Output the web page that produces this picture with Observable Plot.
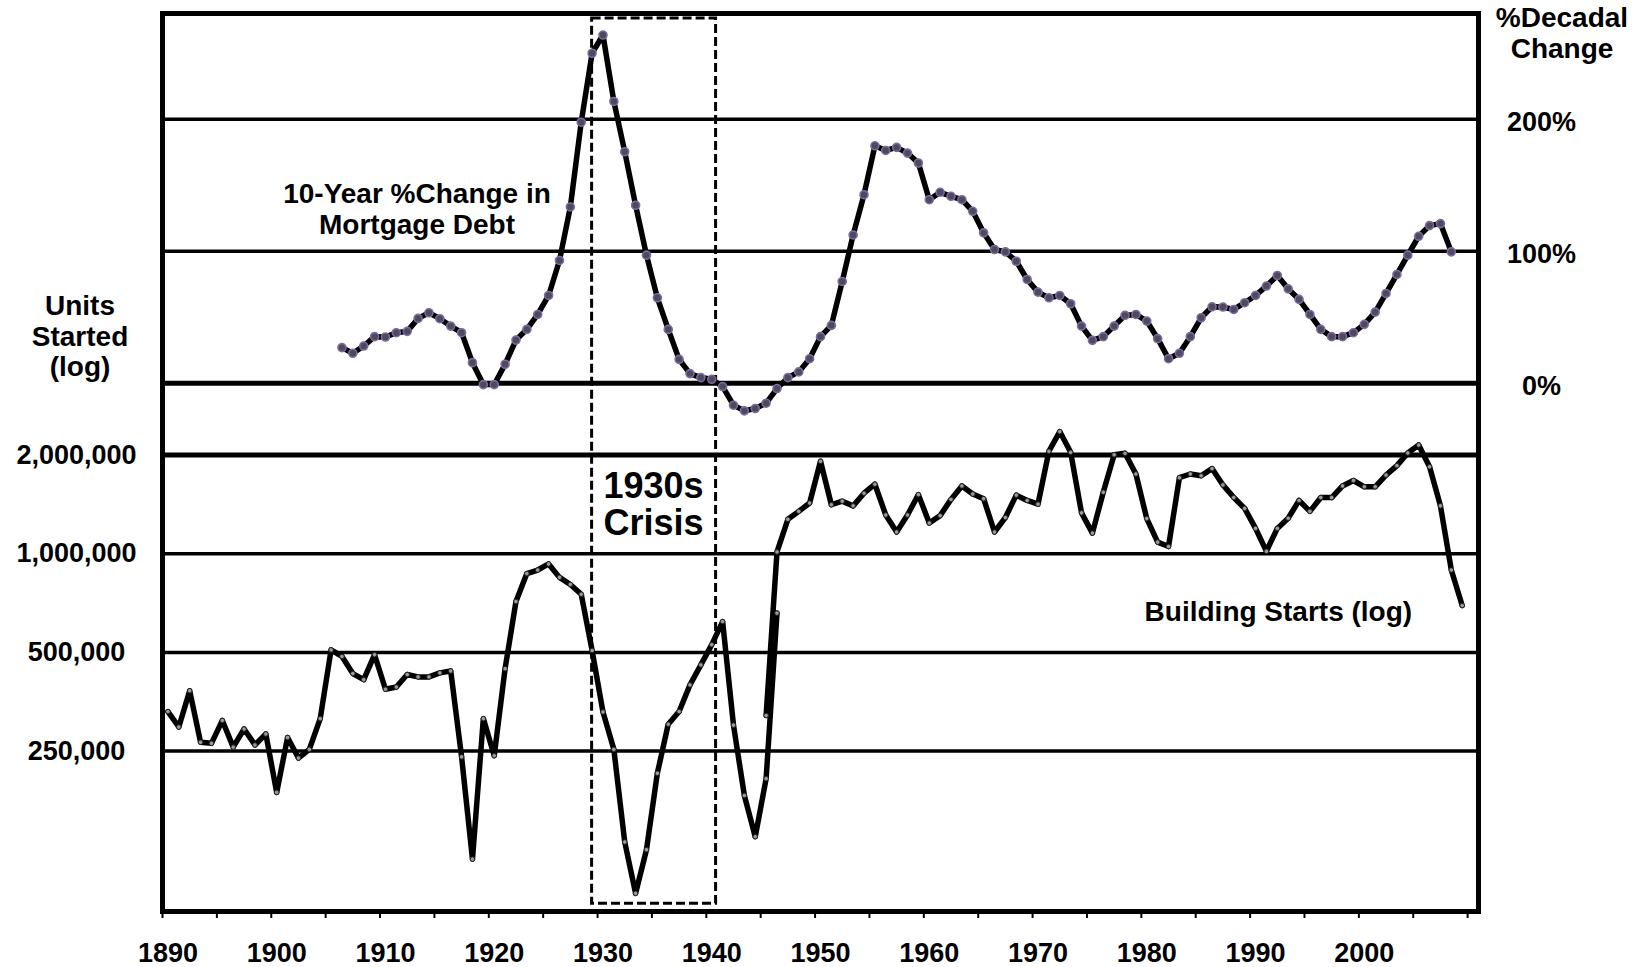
<!DOCTYPE html>
<html>
<head>
<meta charset="utf-8">
<script src="https://cdn.jsdelivr.net/npm/d3@7"></script>
<script src="https://cdn.jsdelivr.net/npm/@observablehq/plot@0.6"></script>
<style>
  html, body { margin: 0; padding: 0; background: #fff; }
  #wrap { position: relative; width: 1646px; height: 967px; font-family: "Liberation Sans", Arial, sans-serif; font-weight: bold; color: #000; }
  #wrap svg { position: absolute; left: 0; top: 0; }
  .title { position: absolute; font-size: 28px; line-height: 30.5px; text-align: center; white-space: nowrap; }
</style>
</head>
<body>
<div id="wrap">
  <div class="title" id="leftTitle" style="left:0px; top:291px; width:160px;"></div>
  <div class="title" id="rightTitle" style="left:1482px; top:3px; width:160px;"></div>
</div>
<script>
// ---------- DATA ----------
// Building starts (units, log scale). 1945-1946 appear twice: two spliced source series.
const startYears = [
  1890,1891,1892,1893,1894,1895,1896,1897,1898,1899,
  1900,1901,1902,1903,1904,1905,1906,1907,1908,1909,
  1910,1911,1912,1913,1914,1915,1916,1917,1918,1919,
  1920,1921,1922,1923,1924,1925,1926,1927,1928,1929,
  1930,1931,1932,1933,1934,1935,1936,1937,1938,1939,
  1940,1941,1942,1943,1944,1945,1946,1945,1946,1947,
  1948,1949,1950,1951,1952,1953,1954,1955,1956,1957,
  1958,1959,1960,1961,1962,1963,1964,1965,1966,1967,
  1968,1969,1970,1971,1972,1973,1974,1975,1976,1977,
  1978,1979,1980,1981,1982,1983,1984,1985,1986,1987,
  1988,1989,1990,1991,1992,1993,1994,1995,1996,1997,
  1998,1999,2000,2001,2002,2003,2004,2005,2006,2007,
  2008,2009
];
const startValues = [
  330000,296000,382000,266000,264000,310000,257000,292000,261000,282000,
  187000,275000,238000,253000,314000,509000,486000,431000,413000,492000,
  386000,392000,428000,421000,421000,433000,439000,240000,117000,314000,
  242000,446000,715000,870000,892000,931000,847000,806000,752000,507000,
  329000,253000,132000,92000,125000,214000,302000,330000,398000,458000,
  528000,621000,300000,183000,137000,206000,659000,321000,1013000,1274000,
  1347000,1428000,1915000,1411000,1447000,1400000,1530000,1630000,1313000,1165000,
  1313000,1515000,1241000,1307000,1465000,1610000,1522000,1472000,1165000,1290000,
  1510000,1454000,1417000,2055000,2359000,2040000,1333000,1156000,1541000,2004000,
  2025000,1751000,1280000,1085000,1052000,1706000,1751000,1729000,1819000,1622000,
  1484000,1375000,1195000,1018000,1195000,1283000,1454000,1347000,1484000,1484000,
  1610000,1673000,1601000,1601000,1738000,1857000,2030000,2147000,1842000,1400000,
  892000,695000
];

// 10-year % change in mortgage debt
const debtYears = [
  1906,1907,1908,1909,1910,1911,1912,1913,1914,1915,
  1916,1917,1918,1919,1920,1921,1922,1923,1924,1925,
  1926,1927,1928,1929,1930,1931,1932,1933,1934,1935,
  1936,1937,1938,1939,1940,1941,1942,1943,1944,1945,
  1946,1947,1948,1949,1950,1951,1952,1953,1954,1955,
  1956,1957,1958,1959,1960,1961,1962,1963,1964,1965,
  1966,1967,1968,1969,1970,1971,1972,1973,1974,1975,
  1976,1977,1978,1979,1980,1981,1982,1983,1984,1985,
  1986,1987,1988,1989,1990,1991,1992,1993,1994,1995,
  1996,1997,1998,1999,2000,2001,2002,2003,2004,2005,
  2006,2007,2008
];
const debtChange = [
  27,22.7,28.2,35.3,35,38.3,39.3,49.1,53.4,48.9,
  43.3,38.3,15.6,-1,-1,14.4,32.7,40.8,52.1,66.5,
  93,133.5,197.7,249.9,263.7,213.4,175.3,134.8,97,64.7,
  40.8,18.1,7.3,4.3,3,-2.5,-16.6,-20.9,-19.1,-15.1,
  -4,4.3,8.6,18.6,35.3,43.8,77.1,112.3,142.8,179.8,
  176.3,178.6,174.3,166.8,139,144.6,141.6,139,130.2,113.9,
  101.3,99.5,92.4,78.6,69,64.7,66.5,60.2,43.3,32.5,
  35.3,43.3,51.4,52.1,47.1,33.8,18.6,22.7,35.3,49.6,
  57.9,57.7,55.9,61,66.5,73.6,81.6,71.5,63.5,52.1,
  40.8,35.3,35.3,38.3,44.6,53.9,68,82.4,97,111.3,
  119.4,120.9,99.5
];

// Axis ticks and labels
const decadeLabels = [1890,1900,1910,1920,1930,1940,1950,1960,1970,1980,1990,2000];
const startTicks = [250000, 500000, 1000000, 2000000];
const pctTicks = [0, 100, 200];
const crisisSpan = [1929, 1940.4];
const crisisLabel = "1930s\nCrisis";
const debtLabel = "10-Year %Change in\nMortgage Debt";
const startsLabel = "Building Starts (log)";
const leftTitle = ["Units", "Started", "(log)"];
const rightTitle = ["%Decadal", "Change"];

// ---------- LAYOUT ----------
const W = 1646, H = 967;
const M = {left: 162, right: 168, top: 13, bottom: 56};
const font = "'Liberation Sans', Arial, sans-serif";
const xDomain = [1889.5, 2010.5];

const starts = startYears.map((year, i) => ({year, value: startValues[i]}));
const debt = debtYears.map((year, i) => ({year, value: debtChange[i]}));

const plotA = Plot.plot({
  width: W, height: H,
  marginLeft: M.left, marginRight: M.right, marginTop: M.top, marginBottom: M.bottom,
  style: {fontFamily: font, fontSize: "27px", fontWeight: "bold", background: "white", color: "#000", overflow: "visible"},
  x: {domain: xDomain},
  y: {type: "log", domain: [81000, 44500000], axis: null},
  marks: [
    Plot.ruleY(startTicks.filter(d => d < 2000000), {stroke: "#000", strokeWidth: 3.5}),
    Plot.ruleY(startTicks.filter(d => d >= 2000000), {stroke: "#000", strokeWidth: 5}),
    Plot.rect([crisisSpan], {
      x1: d => d[0], x2: d => d[1], y1: () => 85500, y2: () => 43000000,
      fill: "none", stroke: "#000", strokeWidth: 3, strokeDasharray: "9,4"
    }),
    Plot.text(startTicks, {frameAnchor: "left", y: d => d, dx: -86, text: d3.format(","),
      textAnchor: "middle", fontSize: 27, fontWeight: "bold", fill: "#000"}),
    Plot.axisX({ticks: d3.range(xDomain[0], 2010, 5), tickSize: 7, tickFormat: () => "",
      strokeWidth: 2, label: null}),
    Plot.axisX({ticks: decadeLabels, tickSize: 0, tickPadding: 31, tickFormat: d => String(d),
      label: null, fontSize: 27}),
    Plot.line(starts, {x: "year", y: "value", stroke: "#000", strokeWidth: 5.5, strokeLinejoin: "round"}),
    Plot.dot(starts, {x: "year", y: "value", r: 2.3, fill: "#9a9a9a", stroke: "#222", strokeWidth: 1}),
    Plot.text([crisisLabel], {x: () => 1934.65, y: () => 1414000, text: d => d,
      fontSize: 36, fontWeight: "bold", lineHeight: 1.05, letterSpacing: 2.5, textAnchor: "middle", fill: "#000"}),
    Plot.text([startsLabel], {x: () => 1992.1, y: () => 662000, text: d => d,
      fontSize: 28, fontWeight: "bold", textAnchor: "middle", fill: "#000"}),
    Plot.frame({stroke: "#000", strokeWidth: 5})
  ]
});

const plotB = Plot.plot({
  width: W, height: H,
  marginLeft: M.left, marginRight: M.right, marginTop: M.top, marginBottom: M.bottom,
  style: {fontFamily: font, fontSize: "27px", fontWeight: "bold", background: "transparent", color: "#000", overflow: "visible"},
  x: {domain: xDomain, axis: null},
  y: {domain: [-400, 280], axis: null},
  marks: [
    Plot.ruleY(pctTicks.filter(d => d !== 0), {stroke: "#000", strokeWidth: 3.5}),
    Plot.ruleY(pctTicks.filter(d => d === 0), {stroke: "#000", strokeWidth: 5}),
    Plot.text(pctTicks, {frameAnchor: "right", y: d => d, dx: 63, dy: 3, text: d => d + "%",
      textAnchor: "middle", fontSize: 27, fontWeight: "bold", fill: "#000"}),
    Plot.line(debt, {x: "year", y: "value", stroke: "#000", strokeWidth: 5.5, strokeLinejoin: "round"}),
    Plot.dot(debt, {x: "year", y: "value", r: 4, fill: "#4e4a58", stroke: "#7c6aa6", strokeWidth: 1.6}),
    Plot.text([debtLabel], {x: () => 1912.9, y: () => 132, text: d => d,
      fontSize: 28, fontWeight: "bold", lineHeight: 1.1, textAnchor: "middle", fill: "#000"})
  ]
});

const wrap = document.getElementById("wrap");
wrap.insertBefore(plotB, wrap.firstChild);
wrap.insertBefore(plotA, wrap.firstChild);
document.getElementById("leftTitle").innerHTML = leftTitle.join("<br>");
document.getElementById("rightTitle").innerHTML = rightTitle.join("<br>");
</script>
</body>
</html>
